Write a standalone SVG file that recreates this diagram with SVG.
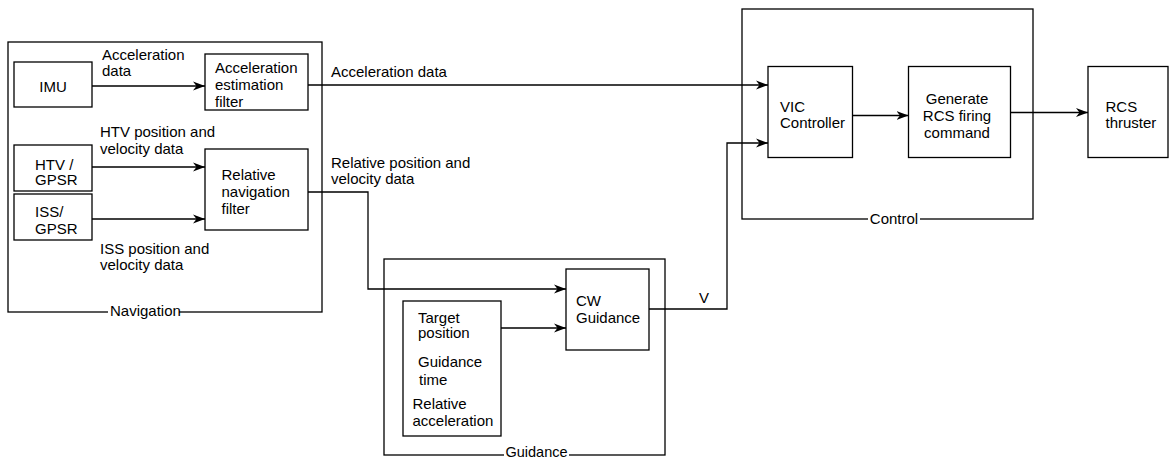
<svg xmlns="http://www.w3.org/2000/svg" width="1169" height="460" viewBox="0 0 1169 460">
<style>
.box{fill:none;stroke:#000;stroke-width:1.3}
.grp{fill:none;stroke:#000;stroke-width:1.3}
.gap{fill:#fff;stroke:none}
text{font-family:"Liberation Sans",Arial,sans-serif;font-size:15px;fill:#000}
.c{text-anchor:middle}
.con{fill:none;stroke:#000;stroke-width:1.3}
.arr{marker-end:url(#ah)}
</style>
<defs>
<marker id="ah" viewBox="-12 -5 12 10" refX="0" refY="0" markerWidth="12" markerHeight="10" markerUnits="userSpaceOnUse" orient="auto">
<path d="M0,0 L-12,-4.5 L-8.5,0 L-12,4.5 Z" fill="#000"/>
</marker>
</defs>

<g id="navigation">
<rect class="grp" x="8" y="42" width="314" height="270"/>
<rect class="gap" x="108" y="304" width="71" height="16"/>
<text x="110" y="316">Navigation</text>
</g>
<g id="control">
<rect class="grp" x="742" y="9" width="291" height="210"/>
<rect class="gap" x="868" y="211" width="52" height="16"/>
<text x="894" y="224" class="c">Control</text>
</g>
<g id="guidance">
<rect class="grp" x="384" y="259" width="281" height="196"/>
<rect class="gap" x="504" y="447" width="65" height="13"/>
<text x="536.5" y="456.5" class="c" style="font-size:14.5px">Guidance</text>
</g>

<g id="imu">
<rect class="box" x="14" y="62" width="78" height="45"/>
<text x="53" y="92" class="c">IMU</text>
</g>
<g id="accel-filter">
<rect class="box" x="205" y="54" width="103" height="56"/>
<text x="215" y="72.5">Acceleration</text>
<text x="215" y="89.5">estimation</text>
<text x="215" y="106.5">filter</text>
</g>
<g id="htv-gpsr">
<rect class="box" x="14" y="145" width="78" height="46"/>
<text x="35" y="169.5">HTV /</text>
<text x="35" y="185">GPSR</text>
</g>
<g id="iss-gpsr">
<rect class="box" x="14" y="194" width="78" height="46"/>
<text x="35" y="217">ISS/</text>
<text x="35" y="234">GPSR</text>
</g>
<g id="rel-nav-filter">
<rect class="box" x="205" y="149" width="103" height="81"/>
<text x="221.5" y="180">Relative</text>
<text x="221.5" y="197">navigation</text>
<text x="221.5" y="214">filter</text>
</g>
<g id="cw-guidance">
<rect class="box" x="566" y="269" width="83" height="81"/>
<text x="576" y="306">CW</text>
<text x="576" y="323">Guidance</text>
</g>
<g id="targets">
<rect class="box" x="403" y="301" width="98" height="135"/>
<text x="418" y="322.5">Target</text>
<text x="418" y="338">position</text>
<text x="418" y="367">Guidance</text>
<text x="419" y="385">time</text>
<text x="412.5" y="409">Relative</text>
<text x="412.5" y="426">acceleration</text>
</g>
<g id="vic">
<rect class="box" x="768" y="66.5" width="84.5" height="91"/>
<text x="780" y="111.5">VIC</text>
<text x="780" y="128">Controller</text>
</g>
<g id="generate">
<rect class="box" x="908.5" y="66.5" width="102" height="91"/>
<text x="957" y="104" class="c">Generate</text>
<text x="957" y="121" class="c">RCS firing</text>
<text x="957" y="138" class="c">command</text>
</g>
<g id="rcs">
<rect class="box" x="1088" y="66.5" width="80" height="91"/>
<text x="1105.5" y="111.5">RCS</text>
<text x="1105.5" y="128">thruster</text>
</g>

<g id="connectors">
<path class="con arr" d="M92,86 H205"/>
<path class="con arr" d="M92,167 H205"/>
<path class="con arr" d="M92,219 H205"/>
<path class="con arr" d="M308,85 H768"/>
<path class="con arr" d="M308,192 H368 V289 H566"/>
<path class="con arr" d="M501,328 H566"/>
<path class="con arr" d="M649,309 H727 V143 H768"/>
<path class="con arr" d="M852.5,115.5 H908.5"/>
<path class="con arr" d="M1010.5,112.5 H1088"/>
<text x="102" y="60">Acceleration</text>
<text x="102" y="76">data</text>
<text x="100" y="137">HTV position and</text>
<text x="100" y="154">velocity data</text>
<text x="100" y="254">ISS position and</text>
<text x="100" y="270">velocity data</text>
<text x="331" y="76.5">Acceleration data</text>
<text x="331" y="167.5">Relative position and</text>
<text x="331" y="184">velocity data</text>
<text x="699" y="303">V</text>
</g>
</svg>
